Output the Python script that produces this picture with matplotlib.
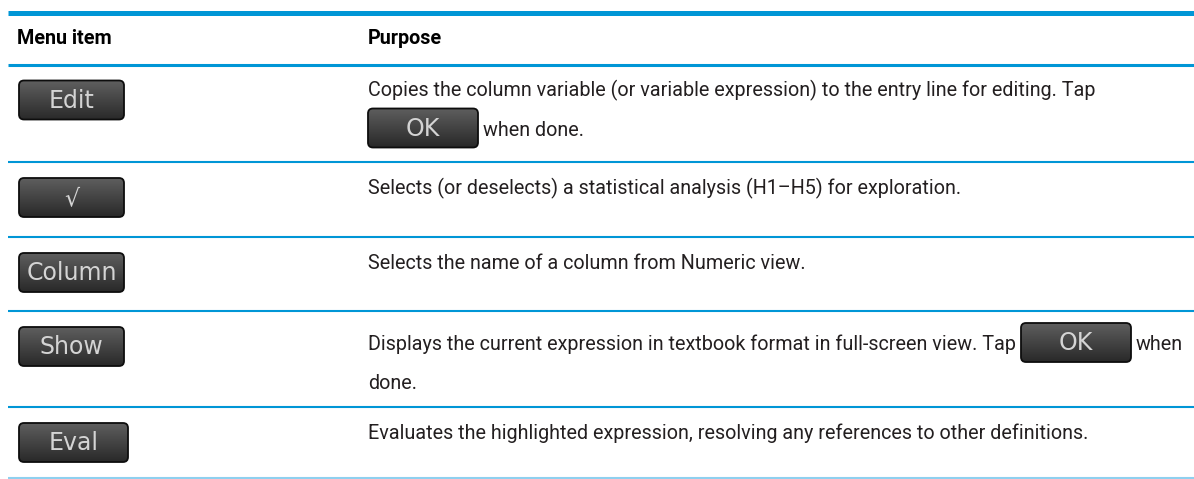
import matplotlib
matplotlib.use("Agg")
import matplotlib.pyplot as plt
import numpy as np
from matplotlib.patches import FancyBboxPatch

# table content
headers = ["Menu item", "Purpose"]
menu_items = ["Edit", "\u221a", "Column", "Show", "Eval"]
purposes = [
    ["Copies the column variable (or variable expression) to the entry line for editing. Tap",
     "{OK} when done."],
    ["Selects (or deselects) a statistical analysis (H1\u2013H5) for exploration."],
    ["Selects the name of a column from Numeric view."],
    ["Displays the current expression in textbook format in full-screen view. Tap {OK} when",
     "done."],
    ["Evaluates the highlighted expression, resolving any references to other definitions."],
]
inline_button = "OK"

# layout (pixels)
W, H = 1194, 479
row_lines = [64.5, 162, 237, 311, 407, 477.5]
col_x = [17, 368]
line_x0 = 8
menu_btn_x = 19
menu_btn_w = [105, 105, 105, 105, 109]
btn_h = 39
ok_w = 110
line_gap = 39

BLUE = "#0096d6"
TEXT = "#231f20"
BODY_FONT = ["Roboto", "DejaVu Sans"]
BODY_SIZE = 14.2


def draw_button(ax, x, y, w, h, label):
    box = FancyBboxPatch((x, y), w, h, boxstyle="round,pad=0,rounding_size=5",
                         facecolor="none", edgecolor="#0d0d0d", linewidth=1.3, zorder=3)
    ax.add_patch(box)
    grad = np.linspace(0, 1, 64)[:, None]
    top = np.array([0.37, 0.37, 0.37])
    bot = np.array([0.16, 0.16, 0.16])
    img = top + (bot - top) * grad[..., None]
    img = np.repeat(img, 2, axis=1)
    im = ax.imshow(img, extent=(x, x + w, y + h, y), origin="upper",
                   interpolation="bilinear", zorder=2, aspect="auto")
    im.set_clip_path(box)
    ax.text(x + w / 2, y + 27, label, ha="center", va="baseline",
            fontsize=17, color="#d4d4d4", family="DejaVu Sans", zorder=4)


fig = plt.figure(figsize=(W / 100, H / 100), dpi=100)
ax = fig.add_axes([0, 0, 1, 1])
ax.axis("off")
renderer = fig.canvas.get_renderer()

# rules
ax.plot([line_x0, W], [12.5, 12.5], color=BLUE, lw=3.6, solid_capstyle="butt")
ax.plot([line_x0, W], [row_lines[0], row_lines[0]], color=BLUE, lw=2.2, solid_capstyle="butt")
for yl in row_lines[1:-1]:
    ax.plot([line_x0, W], [yl, yl], color=BLUE, lw=1.5, solid_capstyle="butt")
ax.plot([line_x0, W], [row_lines[-1], row_lines[-1]], color="#8fd0ef", lw=1.5,
        solid_capstyle="butt")

# header
for hx, label in zip(col_x, headers):
    ax.text(hx, 44, label, ha="left", va="baseline", fontsize=BODY_SIZE,
            fontweight="bold", color="black", family=BODY_FONT)

# rows
for i, (item, lines) in enumerate(zip(menu_items, purposes)):
    top = row_lines[i]
    draw_button(ax, menu_btn_x, top + 16, menu_btn_w[i], btn_h, item)
    base = top + 32
    for j, line in enumerate(lines):
        parts = line.split("{" + inline_button + "}")
        if len(parts) > 1 and j == 0:
            base += 7
        x = col_x[1]
        for k, part in enumerate(parts):
            if k > 0:
                if x > col_x[1]:
                    x += 5
                draw_button(ax, x, base - 27, ok_w, btn_h, inline_button)
                x += ok_w + 5
            seg = part.strip()
            if seg:
                t = ax.text(x, base, seg, ha="left", va="baseline", fontsize=BODY_SIZE,
                            color=TEXT, family=BODY_FONT)
                x += t.get_window_extent(renderer=renderer).width
        base += line_gap

ax.set_xlim(0, W)
ax.set_ylim(H, 0)
fig.savefig("out.png", dpi=100)
